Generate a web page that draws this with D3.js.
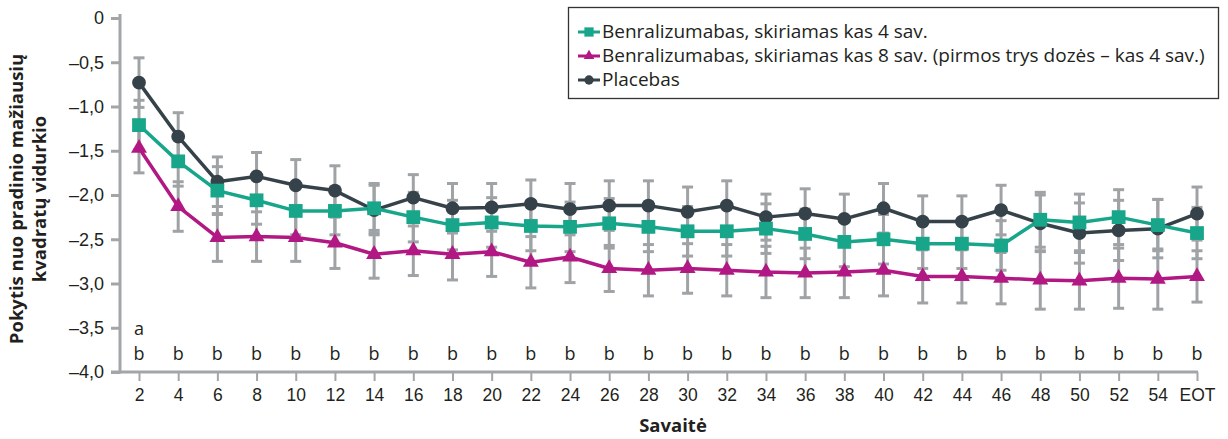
<!DOCTYPE html>
<html>
<head>
<meta charset="utf-8">
<script src="https://cdn.jsdelivr.net/npm/d3@7/dist/d3.min.js"></script>
<style>
  html, body { margin: 0; padding: 0; background: #fff; }
  svg { display: block; font-family: "Open Sans", Lato, sans-serif; }
</style>
</head>
<body>
<svg id="chart" width="1228" height="439"></svg>
<script>
// Weeks on the x axis
const weeks = ["2","4","6","8","10","12","14","16","18","20","22","24","26","28",
               "30","32","34","36","38","40","42","44","46","48","50","52","54","EOT"];

// LS mean change from baseline, benralizumab every 4 weeks
const q4w    = [-1.21,-1.62,-1.95,-2.06,-2.18,-2.18,-2.15,-2.25,-2.34,-2.31,-2.35,-2.36,-2.32,-2.36,
                -2.41,-2.41,-2.38,-2.44,-2.53,-2.50,-2.55,-2.55,-2.57,-2.28,-2.31,-2.25,-2.34,-2.43];
const q4wErr = [0.28,0.28,0.27,0.27,0.27,0.27,0.28,0.28,0.28,0.28,0.28,0.28,0.28,0.28,
                0.28,0.28,0.28,0.28,0.28,0.28,0.28,0.28,0.28,0.31,0.32,0.31,0.29,0.29];

// Benralizumab every 8 weeks (first three doses every 4 weeks)
const q8w    = [-1.47,-2.13,-2.48,-2.47,-2.48,-2.54,-2.67,-2.63,-2.67,-2.64,-2.76,-2.70,-2.83,-2.85,
                -2.83,-2.85,-2.87,-2.88,-2.87,-2.85,-2.92,-2.92,-2.94,-2.96,-2.97,-2.94,-2.95,-2.92];
const q8wErr = [0.28,0.28,0.27,0.28,0.27,0.29,0.27,0.28,0.29,0.28,0.29,0.29,0.26,0.29,
                0.28,0.29,0.29,0.28,0.29,0.29,0.30,0.30,0.29,0.33,0.32,0.34,0.34,0.29];

// Placebo
const pbo    = [-0.73,-1.34,-1.85,-1.79,-1.89,-1.95,-2.17,-2.03,-2.15,-2.14,-2.10,-2.16,-2.12,-2.12,
                -2.19,-2.12,-2.25,-2.21,-2.27,-2.15,-2.30,-2.30,-2.17,-2.32,-2.43,-2.40,-2.38,-2.21];
const pboErr = [0.28,0.27,0.28,0.27,0.29,0.28,0.28,0.26,0.28,0.27,0.27,0.29,0.28,0.28,
                0.28,0.28,0.26,0.28,0.28,0.28,0.29,0.29,0.28,0.32,0.34,0.34,0.33,0.30];

const yTicks = [0,-0.5,-1.0,-1.5,-2.0,-2.5,-3.0,-3.5,-4.0];

// Significance markers under each week
const sigTop    = ["a","","","","","","","","","","","","","","","","","","","","","","","","","","",""];
const sigBottom = weeks.map(() => "b");

const legendLabels = [
  "Benralizumabas, skiriamas kas 4 sav.",
  "Benralizumabas, skiriamas kas 8 sav. (pirmos trys dozės – kas 4 sav.)",
  "Placebas"
];

const series = [
  { name: legendLabels[2], values: pbo, err: pboErr, color: "#36424a", shape: d3.symbolCircle,   size: 150 },
  { name: legendLabels[1], values: q8w, err: q8wErr, color: "#b21883", shape: d3.symbolTriangle, size: 110 },
  { name: legendLabels[0], values: q4w, err: q4wErr, color: "#18a68b", shape: d3.symbolSquare,   size: 190 }
];

const svg = d3.select("#chart");
const axisGrey = "#a3a6a8";
const errGrey = "#9fa3a6";
const textCol = "#231f20";

const x = d3.scalePoint().domain(weeks).range([139, 1197]);
const y = d3.scaleLinear().domain([0, -4]).range([18, 372]);

const fmt = v => v === 0 ? "0" : "–" + d3.format(".1f")(Math.abs(v)).replace(".", ",");

// Y axis
const yAxis = svg.append("g").attr("transform", "translate(120,0)")
  .call(d3.axisLeft(y).tickValues(yTicks).tickFormat(fmt).tickSize(9).tickPadding(7));
yAxis.select(".domain").remove();
yAxis.selectAll(".tick line").attr("stroke", axisGrey).attr("stroke-width", 3);
yAxis.selectAll(".tick text").attr("fill", textCol).style("font-size", "18px");
svg.append("line").attr("x1", 120).attr("x2", 120).attr("y1", 14).attr("y2", y(-4) + 1.5)
  .attr("stroke", axisGrey).attr("stroke-width", 3);

// X axis
const xAxis = svg.append("g").attr("transform", `translate(0,${y(-4)})`)
  .call(d3.axisBottom(x).tickSize(9).tickPadding(8));
xAxis.select(".domain").remove();
xAxis.selectAll(".tick line").attr("stroke", axisGrey).attr("stroke-width", 2);
xAxis.selectAll(".tick text").attr("fill", textCol).style("font-size", "17.5px");
svg.append("line").attr("x1", 111).attr("x2", 1198).attr("y1", y(-4)).attr("y2", y(-4))
  .attr("stroke", axisGrey).attr("stroke-width", 3);

// Axis titles
svg.append("text").attr("x", 673).attr("y", 432).attr("text-anchor", "middle")
  .style("font-size", "18.5px").style("font-weight", "bold").attr("fill", textCol).text("Savaitė");
const yTitle = svg.append("text").attr("transform", "translate(0,199) rotate(-90)")
  .attr("text-anchor", "middle").style("font-size", "18.5px").style("font-weight", "bold").attr("fill", textCol);
yTitle.append("tspan").attr("x", 0).attr("y", 23).text("Pokytis nuo pradinio mažiausių");
yTitle.append("tspan").attr("x", 0).attr("y", 46).text("kvadratų vidurkio");

// Significance letters
svg.append("g").selectAll("text").data(weeks).join("text")
  .attr("x", d => x(d)).attr("y", 335).attr("text-anchor", "middle")
  .style("font-size", "18px").attr("fill", textCol).text((d, i) => sigTop[i]);
svg.append("g").selectAll("text").data(weeks).join("text")
  .attr("x", d => x(d)).attr("y", 360).attr("text-anchor", "middle")
  .style("font-size", "18px").attr("fill", textCol).text((d, i) => sigBottom[i]);

// Lines
const line = d3.line().x((d, i) => x(weeks[i])).y(d => y(d));
series.forEach(s => {
  svg.append("path").datum(s.values).attr("d", line)
    .attr("fill", "none").attr("stroke", s.color).attr("stroke-width", 3.5)
    .attr("stroke-linejoin", "round");
});

// Error bars
series.forEach(s => {
  const g = svg.append("g").attr("stroke", errGrey).attr("stroke-width", 3);
  s.values.forEach((v, i) => {
    const cx = x(weeks[i]);
    const top = y(v + s.err[i]), bot = y(v - s.err[i]);
    g.append("line").attr("x1", cx).attr("x2", cx).attr("y1", top).attr("y2", bot);
    g.append("line").attr("x1", cx - 5.5).attr("x2", cx + 5.5).attr("y1", top).attr("y2", top);
    g.append("line").attr("x1", cx - 5.5).attr("x2", cx + 5.5).attr("y1", bot).attr("y2", bot);
  });
});

// Markers
series.forEach(s => {
  svg.append("g").selectAll("path").data(s.values).join("path")
    .attr("transform", (d, i) => `translate(${x(weeks[i])},${y(d)})`)
    .attr("d", d3.symbol().type(s.shape).size(s.size))
    .attr("fill", s.color);
});

// Legend
const lg = svg.append("g");
lg.append("rect").attr("x", 568.5).attr("y", 7.5).attr("width", 650).attr("height", 91)
  .attr("fill", "#fff").attr("stroke", "#333").attr("stroke-width", 1.3);
const legendItems = [series[2], series[1], series[0]];
legendItems.forEach((s, i) => {
  const cy = 32 + i * 24;
  lg.append("line").attr("x1", 578).attr("x2", 600).attr("y1", cy).attr("y2", cy)
    .attr("stroke", s.color).attr("stroke-width", 3);
  lg.append("path").attr("transform", `translate(589,${cy})`)
    .attr("d", d3.symbol().type(s.shape).size(s.size * 0.45)).attr("fill", s.color);
  lg.append("text").attr("x", 602).attr("y", cy + 6).style("font-size", "19px")
    .attr("fill", textCol).text(s.name);
});
</script>
</body>
</html>
